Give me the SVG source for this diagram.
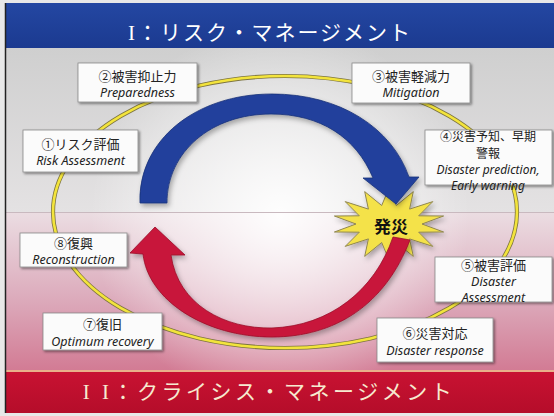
<svg xmlns="http://www.w3.org/2000/svg" width="554" height="416" viewBox="0 0 554 416">
  <defs>
    <linearGradient id="topBg" x1="0" y1="0" x2="0" y2="1">
      <stop offset="0" stop-color="#cfcfcf"/>
      <stop offset="1" stop-color="#e4e2e3"/>
    </linearGradient>
    <linearGradient id="botBg" x1="0" y1="0" x2="0" y2="1">
      <stop offset="0" stop-color="#ebdde2"/>
      <stop offset="0.55" stop-color="#dcaabb"/>
      <stop offset="1" stop-color="#d27a93"/>
    </linearGradient>
    <radialGradient id="glow" cx="280" cy="215" r="190" gradientUnits="userSpaceOnUse">
      <stop offset="0" stop-color="#ffffff" stop-opacity="0.95"/>
      <stop offset="0.6" stop-color="#ffffff" stop-opacity="0.45"/>
      <stop offset="1" stop-color="#ffffff" stop-opacity="0"/>
    </radialGradient>
    <linearGradient id="blueBar" x1="0" y1="0" x2="0" y2="1">
      <stop offset="0" stop-color="#2447a2"/>
      <stop offset="1" stop-color="#1b3a90"/>
    </linearGradient>
    <linearGradient id="redBar" x1="0" y1="0" x2="0" y2="1">
      <stop offset="0" stop-color="#c81232"/>
      <stop offset="1" stop-color="#b50d2a"/>
    </linearGradient>
    <filter id="boxShadow" x="-10%" y="-20%" width="130%" height="150%">
      <feDropShadow dx="1.5" dy="1.5" stdDeviation="1" flood-color="#000" flood-opacity="0.45"/>
    </filter>
    <filter id="arrowShadow" x="-10%" y="-10%" width="130%" height="130%">
      <feDropShadow dx="2" dy="3" stdDeviation="2.5" flood-color="#000" flood-opacity="0.3"/>
    </filter>
    <style>
      .lbl { fill: #222; text-anchor: middle; dominant-baseline: central; }
      .jp { font-family: "Noto Sans CJK JP", "Noto Sans", sans-serif; font-size: 13px; font-style: normal; }
      .en { font-family: "Noto Sans", "Open Sans", sans-serif; font-style: italic; font-size: 12.5px; }
      .sm { font-size: 12px; }
      .box { fill: #fbfbfb; stroke: #8a8a8a; stroke-width: 0.8; filter: url(#boxShadow); }
      .title { font-family: "Liberation Serif", "Noto Sans CJK JP", serif; font-size: 21px; text-anchor: middle; dominant-baseline: central; }
    </style>
  </defs>

  <!-- background bands -->
  <rect x="0" y="0" width="554" height="416" fill="#e8e8e8"/>
  <rect x="5" y="48" width="549" height="165" fill="url(#topBg)"/>
  <rect x="5" y="212" width="549" height="160" fill="url(#botBg)"/>
  <rect x="5" y="48" width="549" height="324" fill="url(#glow)"/>
  <line x1="5" y1="212.5" x2="554" y2="212.5" stroke="#c9b9bf" stroke-width="1"/>

  <!-- header bars -->
  <g id="header-risk">
    <rect x="5" y="3" width="549" height="45" fill="url(#blueBar)"/>
    <text class="title" x="270" y="33" fill="#ffffff" letter-spacing="2">I：リスク・マネージメント</text>
  </g>
  <g id="header-crisis">
    <line x1="5" y1="371" x2="554" y2="371" stroke="#e9b08a" stroke-width="2"/>
    <rect x="5" y="372" width="549" height="41" fill="url(#redBar)"/>
    <text class="title" x="269" y="392" fill="#f6ead0" letter-spacing="3.5">I&#160;I：クライシス・マネージメント</text>
  </g>
  <line x1="5.5" y1="3" x2="5.5" y2="413" stroke="#222" stroke-width="1.5"/>

  <!-- cycle ring -->
  <g id="ring">
    <ellipse cx="285" cy="212" rx="232" ry="136" fill="none" stroke="#7d7440" stroke-width="4.2"/>
    <ellipse cx="285" cy="212" rx="232" ry="136" fill="none" stroke="#f3e43c" stroke-width="2.6"/>
  </g>

  <!-- disaster burst -->
  <g id="disaster">
    <polygon points="389,188 396.3,205.5 413.3,191.6 409.6,209.1 432.8,201.6 418.7,215.8 443.6,216 422,224 443.6,232 418.7,232.2 432.8,246.4 409.6,238.9 413.3,256.4 396.3,242.5 389,260 381.7,242.5 364.7,256.4 368.4,238.9 345.2,246.4 359.3,232.2 334.4,232 356,224 334.4,216 359.3,215.8 345.2,201.6 368.4,209.1 364.7,191.6 381.7,205.5" fill="#f4e24a" stroke="#8f8650" stroke-width="1" filter="url(#arrowShadow)"/>
    <text x="391" y="225" font-family="Noto Sans CJK JP, sans-serif" font-size="17" font-weight="bold" fill="#111" text-anchor="middle" dominant-baseline="central">発災</text>
  </g>

  <!-- connectors: the two curved arrows -->
  <g id="connectors">
    <path id="arrow-risk" d="M140,203 C138,140 196,94 272,94 C340,94 392,128 409,177 L419,177 L396,204 L363,178 L373,178 C356,137 320,114 271,114 C211,114 167,152 167,203 Z" fill="#22419c" stroke="#1a3278" stroke-width="0.8" filter="url(#arrowShadow)"/>
    <path id="arrow-crisis" d="M143,254 C148,300 205,337 272,337 C335,337 385,305 410,240 L393,237 C375,290 330,326 272,328 C225,329 178,305 171,255 L185,255 L155,227 L130,253 Z" fill="#c8153a" stroke="#9a0f2a" stroke-width="0.8" filter="url(#arrowShadow)"/>
  </g>

  <!-- phase labels: Japanese line(s) then English line(s) -->
  <g id="step1">
    <rect class="box" x="23" y="130" width="115" height="42"/>
    <text class="lbl"><tspan class="jp" x="80.5" y="143">①リスク評価</tspan><tspan class="en" x="80.5" y="160">Risk Assessment</tspan></text>
  </g>
  <g id="step2">
    <rect class="box" x="78" y="63" width="119" height="39"/>
    <text class="lbl"><tspan class="jp" x="137.5" y="75">②被害抑止力</tspan><tspan class="en" x="137.5" y="92">Preparedness</tspan></text>
  </g>
  <g id="step3">
    <rect class="box" x="352" y="63" width="118" height="40"/>
    <text class="lbl"><tspan class="jp" x="411" y="75">③被害軽減力</tspan><tspan class="en" x="411" y="92">Mitigation</tspan></text>
  </g>
  <g id="step4">
    <rect class="box" x="425" y="130" width="127" height="55"/>
    <text class="lbl"><tspan class="jp sm" x="488" y="135">④災害予知、早期</tspan><tspan class="jp sm" x="488" y="152">警報</tspan><tspan class="en sm" x="488" y="169">Disaster prediction,</tspan><tspan class="en sm" x="488" y="185">Early warning</tspan></text>
  </g>
  <g id="step5">
    <rect class="box" x="435" y="257" width="117" height="45"/>
    <text class="lbl"><tspan class="jp" x="493.5" y="264">⑤被害評価</tspan><tspan class="en" x="493.5" y="281">Disaster</tspan><tspan class="en" x="493.5" y="297">Assessment</tspan></text>
  </g>
  <g id="step6">
    <rect class="box" x="377" y="318" width="116" height="44"/>
    <text class="lbl"><tspan class="jp" x="435" y="332">⑥災害対応</tspan><tspan class="en" x="435" y="349.5">Disaster response</tspan></text>
  </g>
  <g id="step7">
    <rect class="box" x="43" y="313" width="119" height="37"/>
    <text class="lbl"><tspan class="jp" x="102.5" y="323">⑦復旧</tspan><tspan class="en" x="102.5" y="341">Optimum recovery</tspan></text>
  </g>
  <g id="step8">
    <rect class="box" x="20" y="233" width="107" height="34"/>
    <text class="lbl"><tspan class="jp" x="73.5" y="241.5">⑧復興</tspan><tspan class="en" x="73.5" y="259">Reconstruction</tspan></text>
  </g>
</svg>
